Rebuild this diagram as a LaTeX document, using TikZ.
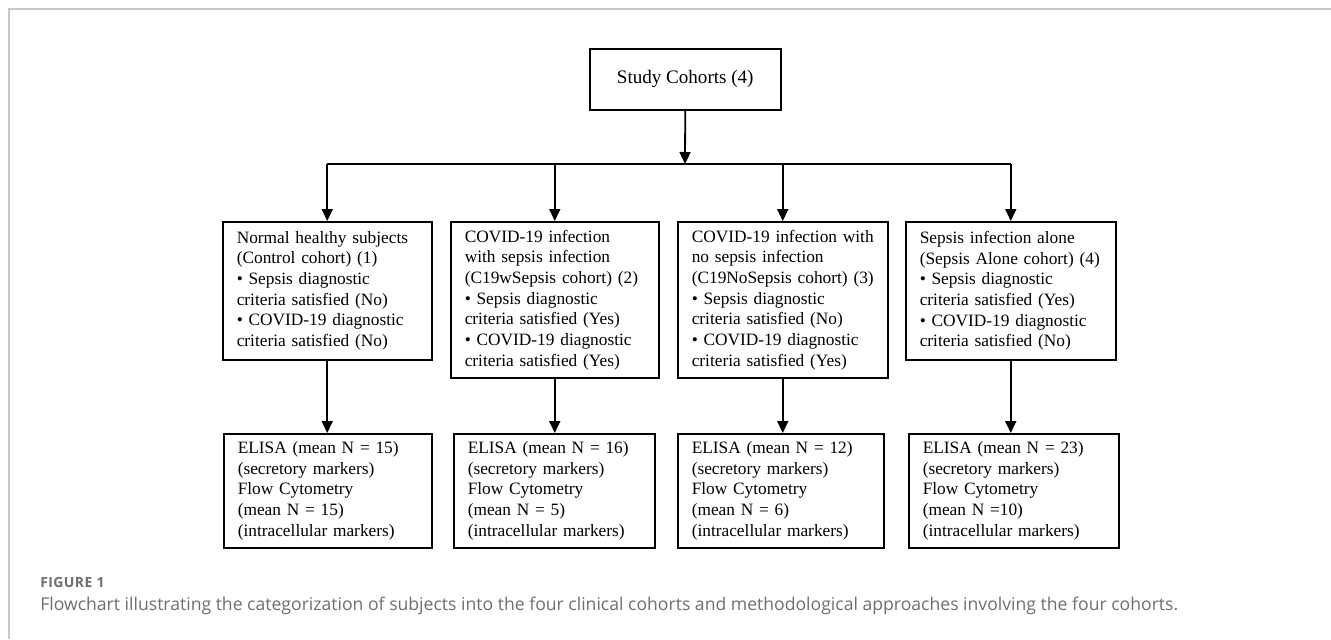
\documentclass[tikz,border=0pt]{standalone}
\usepackage{fontspec}
\setmainfont{Liberation Serif}
\newfontfamily\capfont{Open Sans}
\newfontfamily\capheadfont[LetterSpace=3]{Open Sans}
\usetikzlibrary{arrows.meta}
\newdimen\px \px=0.75pt
\definecolor{framegray}{HTML}{C8C8C8}
\definecolor{capgray}{HTML}{6D6E71}
\begin{document}
\begin{tikzpicture}[x=0.75pt,y=-0.75pt,
  box/.style={draw=black, line width=1.5\px, anchor=north west, align=left,
    inner xsep=14\px, inner ysep=0pt, font=\fontsize{13}{15.5}\selectfont},
  topbox/.style={draw=black, line width=1.5\px, anchor=north west,
    font=\fontsize{14.3}{17}\selectfont},
  conn/.style={line width=1.8\px},
  arr/.style={line width=1.8\px, -{Triangle[length=9pt,width=8.25pt]}},
  caphead/.style={anchor=west, inner sep=0pt, text=capgray, font=\capheadfont\bfseries\fontsize{10.5}{12}\selectfont},
  captext/.style={anchor=west, inner sep=0pt, text=capgray, font=\capfont\fontsize{13.2}{15}\selectfont},
]
\useasboundingbox (0,0) rectangle (1331,639);
\draw[framegray, line width=1.5\px] (9,639) -- (9,9) -- (1331,9);

\node[topbox, minimum width=191\px, minimum height=61\px] (top) at (589,48) {Study Cohorts (4)};

\node[box, text width=181\px, minimum height=138\px] (a1) at (222,221) {Normal healthy subjects\\(Control cohort) (1)\\\textbullet\ Sepsis diagnostic\\criteria satisfied (No)\\\textbullet\ COVID-19 diagnostic\\criteria satisfied (No)};
\node[box, text width=180\px, minimum height=156\px] (a2) at (450,221) {COVID-19 infection\\with sepsis infection\\(C19wSepsis cohort) (2)\\\textbullet\ Sepsis diagnostic\\criteria satisfied (Yes)\\\textbullet\ COVID-19 diagnostic\\criteria satisfied (Yes)};
\node[box, text width=182\px, minimum height=156\px] (a3) at (677,221) {COVID-19 infection with\\no sepsis infection\\(C19NoSepsis cohort) (3)\\\textbullet\ Sepsis diagnostic\\criteria satisfied (No)\\\textbullet\ COVID-19 diagnostic\\criteria satisfied (Yes)};
\node[box, text width=182\px, minimum height=138\px] (a4) at (905,221) {Sepsis infection alone\\(Sepsis Alone cohort) (4)\\\textbullet\ Sepsis diagnostic\\criteria satisfied (Yes)\\\textbullet\ COVID-19 diagnostic\\criteria satisfied (No)};

\node[box, text width=180\px, minimum height=114\px] (b1) at (223,433) {ELISA (mean N = 15)\\(secretory markers)\\Flow Cytometry\\(mean N = 15)\\(intracellular markers)};
\node[box, text width=173\px, minimum height=114\px] (b2) at (453,433) {ELISA (mean N = 16)\\(secretory markers)\\Flow Cytometry\\(mean N = 5)\\(intracellular markers)};
\node[box, text width=178\px, minimum height=114\px] (b3) at (677,433) {ELISA (mean N = 12)\\(secretory markers)\\Flow Cytometry\\(mean N = 6)\\(intracellular markers)};
\node[box, text width=182\px, minimum height=114\px] (b4) at (908,433) {ELISA (mean N = 23)\\(secretory markers)\\Flow Cytometry\\(mean N =10)\\(intracellular markers)};

\coordinate (jt) at (685,164);
\draw[arr] (top.south) -- (jt);
\draw[conn] (a1.north |- jt) -- (a4.north |- jt);
\foreach \i in {1,2,3,4}{
  \draw[arr] (a\i.north |- jt) -- (a\i.north);
  \draw[arr] (a\i.south) -- (a\i.south |- b\i.north);
}

\node[caphead] (fig) at (40,582) {FIGURE 1};
\node[captext] (cap) at (40,606) {Flowchart illustrating the categorization of subjects into the four clinical cohorts and methodological approaches involving the four cohorts.};
\end{tikzpicture}
\end{document}
